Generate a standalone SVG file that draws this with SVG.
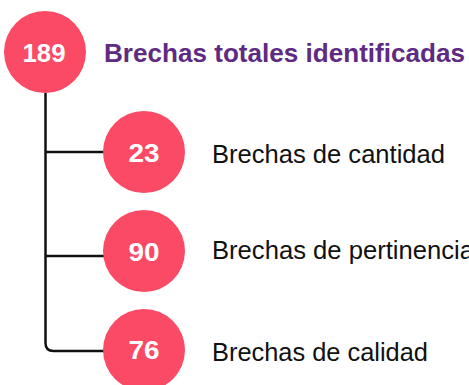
<svg xmlns="http://www.w3.org/2000/svg" width="469" height="385" viewBox="0 0 469 385">
<style>
.dot{fill:#FB4A65}
.num{font-family:"Liberation Sans",Arial,sans-serif;font-weight:bold;font-size:26px;fill:#fff;text-anchor:middle}
.lbl{font-family:"Liberation Sans",Arial,sans-serif;font-size:25px;fill:#111}
.ttl{font-family:"Liberation Sans",Arial,sans-serif;font-weight:bold;font-size:26px;fill:#5E2A82}
.con{fill:none;stroke:#111;stroke-width:2.5}
</style>
<rect width="469" height="385" fill="#fff"/>
<g id="connectors">
<path class="con" d="M45.5,93 V343 Q45.5,351 53.5,351 H104"/>
<line class="con" x1="45.5" y1="152" x2="104" y2="152"/>
<line class="con" x1="45.5" y1="256" x2="104" y2="256"/>
</g>
<g id="total">
<circle class="dot" cx="45" cy="52" r="41"/>
<text class="num" x="44" y="62" textLength="43" lengthAdjust="spacingAndGlyphs">189</text>
<text class="ttl" x="104" y="62" textLength="361" lengthAdjust="spacingAndGlyphs">Brechas totales identificadas</text>
</g>
<g id="cantidad">
<circle class="dot" cx="144" cy="152" r="41"/>
<text class="num" x="144" y="162" textLength="31" lengthAdjust="spacingAndGlyphs">23</text>
<text class="lbl" x="212" y="163" textLength="233" lengthAdjust="spacingAndGlyphs">Brechas de cantidad</text>
</g>
<g id="pertinencia">
<circle class="dot" cx="144" cy="251" r="41"/>
<text class="num" x="144" y="261" textLength="31" lengthAdjust="spacingAndGlyphs">90</text>
<text class="lbl" x="212" y="259" textLength="262" lengthAdjust="spacingAndGlyphs">Brechas de pertinencia</text>
</g>
<g id="calidad">
<circle class="dot" cx="144" cy="350" r="41"/>
<text class="num" x="144" y="359" textLength="31" lengthAdjust="spacingAndGlyphs">76</text>
<text class="lbl" x="212" y="361" textLength="216" lengthAdjust="spacingAndGlyphs">Brechas de calidad</text>
</g>
</svg>
